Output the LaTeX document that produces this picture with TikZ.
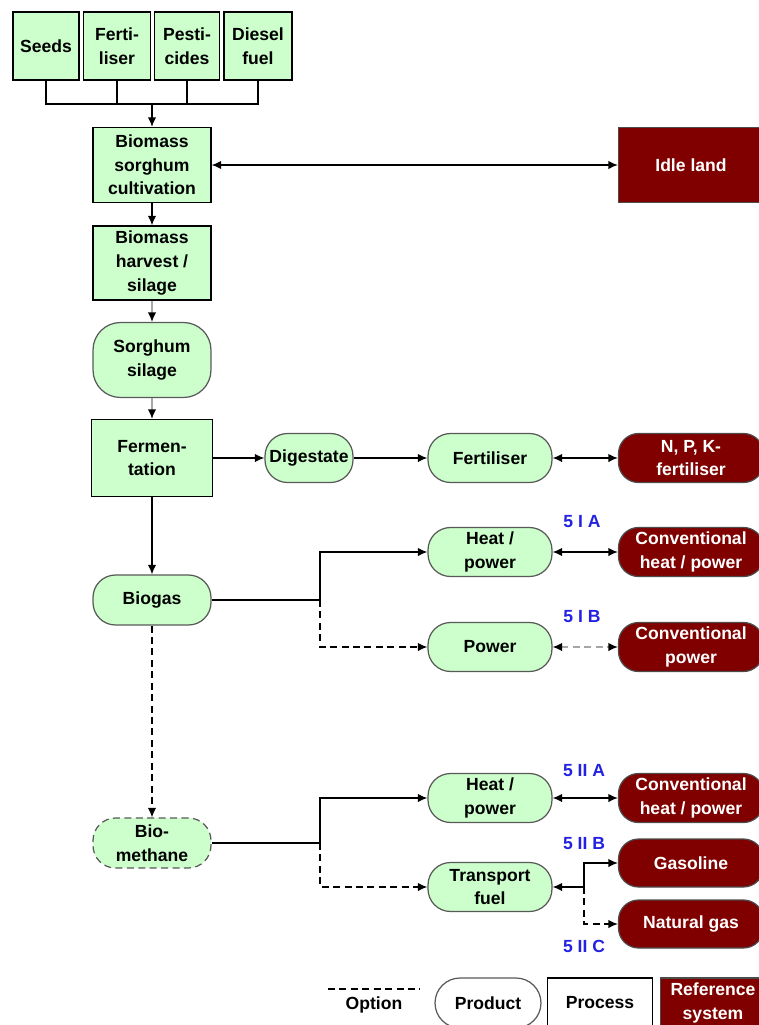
\documentclass[tikz,border=0pt]{standalone}
\usepackage{fontspec}
\setmainfont{Liberation Sans}
\usetikzlibrary{arrows.meta}

\definecolor{procgreen}{HTML}{CCFFCC}
\definecolor{refred}{HTML}{800000}
\definecolor{casecol}{HTML}{2222E0}

\tikzset{
  every node/.style={font=\fontsize{10}{13.4}\selectfont\bfseries, align=center, inner sep=1pt},
  proc/.style={draw, fill=procgreen, line width=0.8pt},
  prod/.style={draw=black!65, fill=procgreen, line width=0.7pt, rounded corners=0.45cm},
  refsys/.style={draw=black!70, fill=refred, text=white, line width=0.7pt, rounded corners=0.4cm},
  casename/.style={text=casecol},
  faint/.style={draw=black!35},
  option/.style={dash pattern=on 4pt off 2.5pt},
}

\begin{document}
\begin{tikzpicture}[x=0.02cm,y=-0.02cm,>={Latex[length=1.9mm,width=1.7mm]},line width=0.8pt]
\clip (0,0) rectangle (759,1025);
\useasboundingbox (0,0) rectangle (759,1025);

% inputs
\node[proc,minimum width=1.32cm,minimum height=1.36cm] (seeds) at (46,46) {Seeds};
\node[proc,minimum width=1.34cm,minimum height=1.36cm] (ferti) at (117,46) {Ferti-\\liser};
\node[proc,minimum width=1.30cm,minimum height=1.36cm] (pesti) at (187,46) {Pesti-\\cides};
\node[proc,minimum width=1.36cm,minimum height=1.36cm] (diesel) at (258,46) {Diesel\\fuel};
\coordinate (bus) at (152,104);

% main chain
\node[proc,minimum width=2.36cm,minimum height=1.5cm] (cult) at (152,165) {Biomass\\sorghum\\cultivation};
\node[refsys,rounded corners=0pt,minimum width=2.9cm,minimum height=1.5cm] (idle) at (691,165) {Idle land};
\node[proc,minimum width=2.36cm,minimum height=1.48cm] (harvest) at (152,263) {Biomass\\harvest /\\silage};
\node[prod,rounded corners=0.55cm,minimum width=2.36cm,minimum height=1.5cm] (silage) at (152,360) {Sorghum\\silage};
\node[proc,minimum width=2.42cm,minimum height=1.54cm] (ferm) at (152,458) {Fermen-\\tation};
\node[prod,minimum width=1.76cm,minimum height=0.98cm] (digest) at (309,458) {Digestate};
\node[prod,minimum width=2.48cm,minimum height=0.98cm] (fert) at (490,458) {Fertiliser};
\node[refsys,minimum width=2.9cm,minimum height=0.98cm] (npk) at (691,458) {N, P, K-\\fertiliser};

% biogas branch
\node[prod,minimum width=2.36cm,minimum height=1.0cm] (biogas) at (152,600) {Biogas};
\node[prod,minimum width=2.48cm,minimum height=0.98cm] (heatA) at (490,552) {Heat /\\power};
\node[refsys,minimum width=2.9cm,minimum height=0.98cm] (convA) at (691,552) {Conventional\\heat / power};
\node[prod,minimum width=2.48cm,minimum height=0.98cm] (power) at (490,647) {Power};
\node[refsys,minimum width=2.9cm,minimum height=0.98cm] (convP) at (691,647) {Conventional\\power};
\node[casename] (caseIA) at (582,522) {5 I A};
\node[casename] (caseIB) at (582,617) {5 I B};

% biomethane branch
\node[prod,option,minimum width=2.36cm,minimum height=1.0cm] (biometh) at (152,843) {Bio-\\methane};
\node[prod,minimum width=2.48cm,minimum height=0.98cm] (heatB) at (490,798) {Heat /\\power};
\node[refsys,minimum width=2.9cm,minimum height=0.98cm] (convB) at (691,798) {Conventional\\heat / power};
\node[prod,minimum width=2.48cm,minimum height=0.98cm] (transp) at (490,887) {Transport\\fuel};
\node[refsys,minimum width=2.9cm,minimum height=0.96cm] (gasol) at (691,863) {Gasoline};
\node[refsys,minimum width=2.9cm,minimum height=0.96cm] (natgas) at (691,924) {Natural gas};
\node[casename] (caseIIA) at (584,771) {5 II A};
\node[casename] (caseIIB) at (584,844) {5 II B};
\node[casename] (caseIIC) at (584,946) {5 II C};
\coordinate (splitA) at (320,600);
\coordinate (splitB) at (320,843);
\coordinate (splitC) at (584,887);

% connectors
\draw (seeds.south) |- (bus) -| (diesel.south);
\draw (ferti.south) -- (ferti.south |- bus);
\draw (pesti.south) -- (pesti.south |- bus);
\draw[->] (bus) -- (cult);
\draw[<->] (cult) -- (idle);
\draw[->] (cult) -- (harvest);
\draw[faint,-{Latex[length=1.9mm,width=1.7mm,color=black]}] (harvest) -- (silage);
\draw[faint,-{Latex[length=1.9mm,width=1.7mm,color=black]}] (silage) -- (ferm);
\draw[->] (ferm) -- (digest);
\draw[->] (digest) -- (fert);
\draw[<->] (fert) -- (npk);
\draw[->] (ferm) -- (biogas);

\draw (biogas) -- (splitA);
\draw[->] (splitA) |- (heatA);
\draw[->,option] (splitA) |- (power);
\draw[<->] (heatA) -- (convA);
\draw[faint,option,{Latex[length=1.9mm,width=1.7mm,color=black]}-{Latex[length=1.9mm,width=1.7mm,color=black]}] (power) -- (convP);
\draw[->,option] (biogas) -- (biometh);

\draw (biometh) -- (splitB);
\draw[->] (splitB) |- (heatB);
\draw[->,option] (splitB) |- (transp);
\draw[<->] (heatB) -- (convB);
\draw[->] (splitC) -- (transp);
\draw[->] (splitC) |- (gasol);
\draw[->,option] (splitC) |- (natgas);

% legend
\coordinate (optA) at (328,989);
\coordinate (optB) at (420,989);
\draw[option] (optA) -- (optB);
\node (optlab) at (374,1005) {Option};
\node[prod,fill=white,rounded corners=0.5cm,minimum width=2.12cm,minimum height=1.0cm] (legprod) at (488,1003) {Product};
\node[proc,fill=white,minimum width=2.1cm,minimum height=1.0cm] (legproc) at (600,1003) {Process};
\node[refsys,rounded corners=0pt,minimum width=2.1cm,minimum height=1.0cm] (legref) at (713,1003) {Reference\\system};
\end{tikzpicture}
\end{document}
